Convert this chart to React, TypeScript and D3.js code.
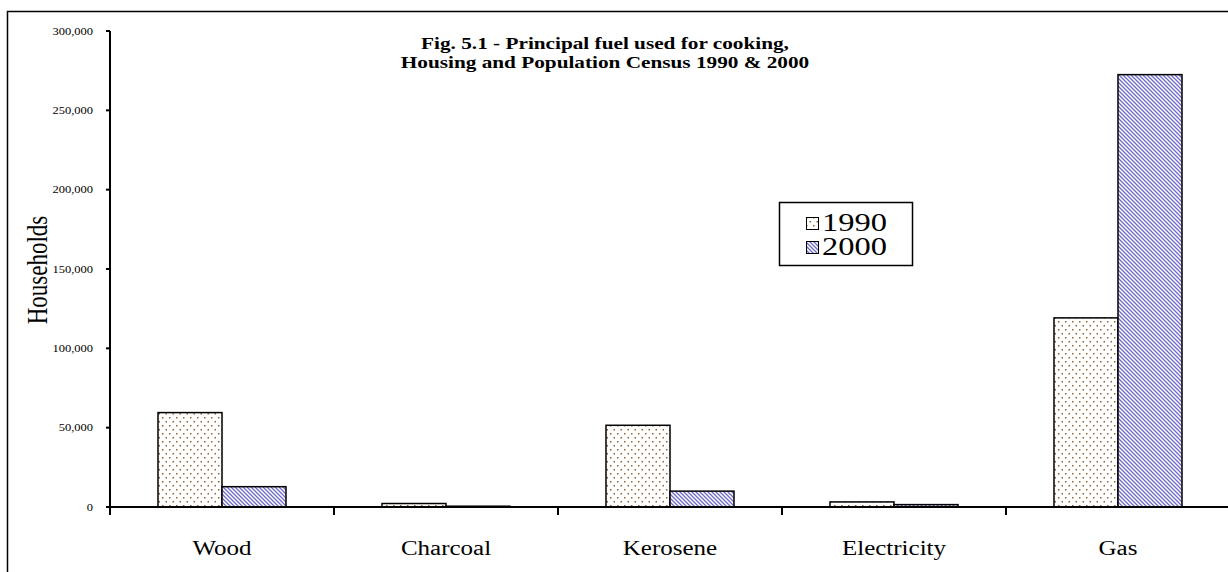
import React from 'react';
import * as d3 from 'd3';

const categories = ['Wood', 'Charcoal', 'Kerosene', 'Electricity', 'Gas'];
const years = ['1990', '2000'];
const values1990 = [59500, 2200, 51500, 3200, 119200];
const values2000 = [12800, 500, 10000, 1500, 272500];
const yTicks = [0, 50000, 100000, 150000, 200000, 250000, 300000];
const titleLines = ['Fig. 5.1 - Principal fuel used for cooking,', 'Housing and Population Census 1990 & 2000'];

const W = 1228;
const H = 572;
const plot = { left: 110, right: 1230, top: 31, bottom: 507 };
const SX = 1.25; // the original chart is stretched horizontally
const serif = '"Liberation Serif", "Times New Roman", serif';

const Txt = ({ x, y, size, anchor = 'middle', bold = false, rotate = 0, children }) => (
  <text
    transform={`translate(${x},${y}) rotate(${rotate}) scale(${rotate ? 1 : SX},${rotate ? SX : 1})`}
    fontFamily={serif}
    fontSize={size}
    fontWeight={bold ? 'bold' : 'normal'}
    textAnchor={anchor}
    dominantBaseline="central"
    fill="#000"
  >
    {children}
  </text>
);

const App = () => {
  const x0 = d3.scaleBand().domain(categories).range([plot.left, plot.right]).paddingInner(0);
  const x1 = d3.scaleBand().domain(years).range([48, x0.bandwidth() - 48]);
  const y = d3.scaleLinear().domain([0, 300000]).range([plot.bottom, plot.top]);
  const fmt = d3.format(',');

  const series = [
    { year: '1990', values: values1990, fill: 'url(#dots)' },
    { year: '2000', values: values2000, fill: 'url(#stripes)' },
  ];

  const boundaries = categories.map(c => x0(c)).concat([plot.right]);

  return (
    <svg width={W} height={H} style={{ position: 'absolute', left: 0, top: 0, background: '#fff' }}>
      <defs>
        <pattern id="dots" width="7" height="8" patternUnits="userSpaceOnUse">
          <rect width="7" height="8" fill="#fff" />
          <rect x="1" y="1" width="1.5" height="1.5" fill="#94602f" />
          <rect x="4.5" y="5" width="1.5" height="1.5" fill="#94602f" />
        </pattern>
        <pattern id="stripes" width="4" height="4" patternUnits="userSpaceOnUse">
          <rect width="4" height="4" fill="#fff" />
          <path d="M-1,-1 L5,5 M-1,3 L1,5 M3,-1 L5,1" stroke="#6c6cc6" strokeWidth="1.3" />
        </pattern>
      </defs>

      {/* outer frame, cut off at right and bottom */}
      <path d={`M7.5,${H} V11.5 H${W}`} fill="none" stroke="#000" strokeWidth="1.5" />

      {/* bars */}
      {series.map(s => (
        <g key={s.year}>
          {categories.map((c, i) => {
            const v = s.values[i];
            return (
              <rect
                key={c}
                x={x0(c) + x1(s.year)}
                y={y(v)}
                width={x1.bandwidth()}
                height={plot.bottom - y(v)}
                fill={s.fill}
                stroke="#000"
                strokeWidth="1.5"
              />
            );
          })}
        </g>
      ))}

      {/* y axis */}
      <line x1={plot.left} x2={plot.left} y1={plot.top} y2={plot.bottom + 8} stroke="#000" strokeWidth="2" />
      {yTicks.map(t => (
        <g key={t}>
          <line x1={plot.left - 4} x2={plot.left} y1={y(t)} y2={y(t)} stroke="#000" strokeWidth="2" />
          <Txt x={93} y={y(t)} size={10} anchor="end">{fmt(t)}</Txt>
        </g>
      ))}

      {/* x axis */}
      <line x1={plot.left} x2={W} y1={plot.bottom} y2={plot.bottom} stroke="#000" strokeWidth="2" />
      {boundaries.map((b, i) => (
        <line key={i} x1={b} x2={b} y1={plot.bottom} y2={plot.bottom + 8} stroke="#000" strokeWidth="2" />
      ))}
      {categories.map(c => (
        <Txt key={c} x={x0(c) + x0.bandwidth() / 2} y={548} size={20}>{c}</Txt>
      ))}

      <Txt x={38} y={270} size={23} rotate={-90}>Households</Txt>

      {titleLines.map((t, i) => (
        <Txt key={i} x={605} y={43 + i * 19} size={17} bold>{t}</Txt>
      ))}

      {/* legend */}
      <rect x={779.5} y={202.5} width={133} height={63} fill="#fff" stroke="#000" strokeWidth="1.5" />
      {series.map((s, i) => (
        <g key={s.year}>
          <rect x={806.5} y={217.5 + i * 24} width={12} height={12} fill={s.fill} stroke="#000" strokeWidth="1" />
          <Txt x={822} y={222 + i * 24} size={26} anchor="start">{s.year}</Txt>
        </g>
      ))}
    </svg>
  );
};

export default App;
